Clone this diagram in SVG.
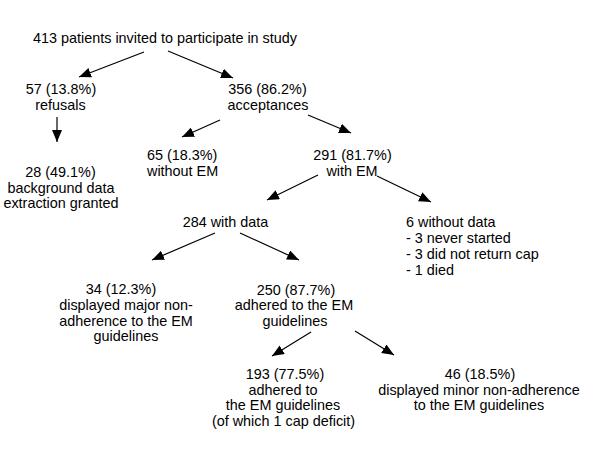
<svg xmlns="http://www.w3.org/2000/svg" width="600" height="473" viewBox="0 0 600 473">
<defs>
<marker id="ah" viewBox="0 0 12 10" refX="12" refY="5" markerWidth="12" markerHeight="10" markerUnits="userSpaceOnUse" orient="auto">
<path d="M0,0 L12,5 L0,10 z" fill="#000"/>
</marker>
<style>
text{font-family:"Liberation Sans",Arial,Helvetica,sans-serif;font-size:14.4px;fill:#000}
.m{text-anchor:middle}
.c line{stroke:#000;stroke-width:1.2;marker-end:url(#ah)}
</style>
</defs>
<rect width="600" height="473" fill="#fff"/>
<g class="c" id="connectors">
<line x1="144" y1="52" x2="79" y2="77"/>
<line x1="168" y1="51" x2="233" y2="78"/>
<line x1="57" y1="117" x2="57" y2="142"/>
<line x1="220" y1="120" x2="182" y2="137"/>
<line x1="308" y1="115" x2="351" y2="133"/>
<line x1="318" y1="175" x2="267" y2="200"/>
<line x1="377" y1="176" x2="431" y2="202"/>
<line x1="215" y1="233" x2="152" y2="260"/>
<line x1="240" y1="233" x2="299" y2="260"/>
<line x1="311" y1="332" x2="272" y2="356"/>
<line x1="355" y1="331" x2="394" y2="355"/>
</g>
<g id="n-invited"><text class="m" x="165" y="43">413 patients invited to participate in study</text></g>
<g id="n-refusals"><text class="m" x="61" y="94">57 (13.8%)</text><text class="m" x="60.5" y="109.5">refusals</text></g>
<g id="n-acceptances"><text class="m" x="267.5" y="94">356 (86.2%)</text><text class="m" x="268" y="109.5">acceptances</text></g>
<g id="n-background"><text class="m" x="60.5" y="177">28 (49.1%)</text><text class="m" x="61" y="192.5">background data</text><text class="m" x="61" y="208">extraction granted</text></g>
<g id="n-withoutEM"><text x="147" y="160">65 (18.3%)</text><text x="147" y="176">without EM</text></g>
<g id="n-withEM"><text class="m" x="352.5" y="160">291 (81.7%)</text><text class="m" x="352" y="176">with EM</text></g>
<g id="n-withdata"><text class="m" x="225.5" y="227">284 with data</text></g>
<g id="n-withoutdata"><text x="406" y="227">6 without data</text><text x="406" y="243">- 3 never started</text><text x="406" y="259">- 3 did not return cap</text><text x="406" y="275">- 1 died</text></g>
<g id="n-major"><text class="m" x="121" y="294">34 (12.3%)</text><text class="m" x="126" y="310">displayed major non-</text><text class="m" x="126" y="325.5">adherence to the EM</text><text class="m" x="126" y="341">guidelines</text></g>
<g id="n-adhered"><text class="m" x="296" y="294.5">250 (87.7%)</text><text class="m" x="294" y="310">adhered to the EM</text><text class="m" x="295" y="325.5">guidelines</text></g>
<g id="n-adhered2"><text class="m" x="285" y="379">193 (77.5%)</text><text class="m" x="283" y="394.5">adhered to</text><text class="m" x="283" y="410">the EM guidelines</text><text class="m" x="283.5" y="425.5">(of which 1 cap deficit)</text></g>
<g id="n-minor"><text class="m" x="480" y="379">46 (18.5%)</text><text class="m" x="479" y="394.5">displayed minor non-adherence</text><text class="m" x="479" y="410">to the EM guidelines</text></g>
</svg>
